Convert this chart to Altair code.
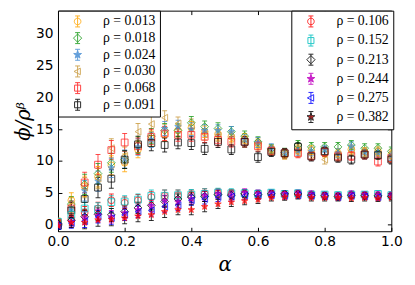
import altair as alt
import pandas as pd

# ---------------- data ----------------
alpha = [0.00, 0.04, 0.08, 0.12, 0.16, 0.20, 0.24, 0.28, 0.32, 0.36, 0.40, 0.44, 0.48,
         0.52, 0.56, 0.60, 0.64, 0.68, 0.72, 0.76, 0.80, 0.84, 0.88, 0.92, 0.96, 1.00]

rho_upper = ["0.013", "0.018", "0.024", "0.030", "0.068", "0.091"]
rho_lower = ["0.106", "0.152", "0.213", "0.244", "0.275", "0.382"]

phi_0013 = [0.3, 3.8, 6.0, 7.5, 9.3, 9.7, 11.8, 13.5, 14.2, 14.8, 15.2, 14.6, 14.2,
            13.8, 13.5, 12.8, 11.8, 11.0, 11.8, 11.7, 11.3, 11.2, 11.8, 11.4, 11.5, 11.0]
phi_0018 = [0.2, 3.2, 6.3, 8.0, 9.7, 10.2, 12.5, 13.9, 14.8, 14.8, 16.0, 15.4, 15.1,
            14.6, 13.9, 13.0, 11.9, 11.3, 12.5, 12.2, 12.2, 12.2, 12.5, 12.0, 12.0, 11.5]
phi_0024 = [0.1, 2.5, 5.3, 6.8, 8.9, 10.3, 12.2, 13.3, 15.1, 15.4, 15.0, 14.8, 14.8,
            14.6, 13.3, 12.9, 12.0, 11.2, 11.6, 11.5, 11.7, 11.2, 12.3, 11.3, 11.3, 10.8]
phi_0030 = [0.4, 3.0, 5.8, 7.2, 12.0, 10.8, 14.6, 15.8, 16.8, 15.9, 15.6, 14.2, 14.0,
            13.6, 13.0, 12.5, 11.7, 11.0, 11.3, 11.0, 10.2, 10.8, 11.6, 11.2, 11.0, 10.6]
phi_0068 = [0.2, 2.5, 6.6, 9.4, 11.7, 12.9, 12.3, 13.8, 14.3, 14.1, 14.1, 13.8, 13.3,
            13.0, 13.0, 12.3, 11.6, 11.2, 11.2, 10.8, 11.4, 10.7, 10.8, 11.0, 9.9, 10.4]
phi_0091 = [-0.2, 2.2, 4.0, 5.8, 7.2, 10.2, 12.6, 12.8, 12.5, 12.9, 12.8, 11.9, 13.0,
            11.8, 13.0, 10.6, 11.4, 11.2, 12.2, 10.7, 11.5, 10.5, 10.2, 11.0, 10.9, 10.2]

phi_0106 = [0.3, 0.8, 1.8, 2.5, 3.8, 3.4, 3.8, 4.3, 4.5, 4.6, 4.6, 4.8, 4.9,
            4.8, 4.8, 4.7, 4.8, 4.7, 4.8, 4.6, 4.5, 4.4, 4.6, 4.6, 4.4, 4.5]
phi_0152 = [0.4, 1.5, 2.5, 2.4, 3.5, 3.6, 3.9, 4.5, 4.5, 4.6, 4.7, 4.8, 5.0,
            4.9, 4.9, 4.8, 5.0, 4.8, 4.9, 4.7, 4.7, 4.6, 4.7, 4.7, 4.8, 4.6]
phi_0213 = [0.1, 0.6, 1.2, 1.6, 1.5, 2.0, 2.6, 3.0, 3.6, 4.0, 4.3, 4.4, 4.7,
            4.6, 4.8, 4.7, 4.8, 4.8, 4.8, 4.6, 4.5, 4.4, 4.6, 4.5, 4.5, 4.4]
phi_0244 = [0.0, 0.4, 1.0, 1.4, 1.2, 1.8, 2.3, 2.9, 3.7, 3.5, 4.0, 4.5, 4.8,
            4.6, 5.0, 4.8, 4.9, 4.8, 4.9, 4.8, 4.6, 4.5, 4.8, 4.7, 4.7, 4.6]
phi_0275 = [-0.3, 0.2, 0.5, 1.2, 1.0, 1.5, 2.0, 2.2, 2.8, 3.0, 3.8, 4.0, 4.3,
            4.4, 4.5, 4.5, 4.6, 4.5, 4.6, 4.5, 4.4, 4.3, 4.5, 4.4, 4.3, 4.4]
phi_0382 = [-0.2, 0.3, 0.3, 0.7, 0.8, 1.0, 1.3, 1.5, 2.0, 2.3, 2.3, 2.8, 3.2,
            3.5, 3.7, 3.9, 4.2, 4.3, 4.5, 4.2, 4.2, 4.2, 4.1, 4.2, 4.1, 4.2]

err_upper = [0.6, 1.2, 1.6, 1.6, 1.5, 1.4, 1.3, 1.2, 1.1, 1.0, 1.0, 0.9, 0.9,
             0.8, 0.8, 0.8, 0.7, 0.7, 0.7, 0.7, 0.7, 0.7, 0.7, 0.7, 0.7, 0.7]
err_lower = [0.5, 0.8, 1.0, 1.0, 1.0, 0.9, 0.9, 0.9, 0.9, 0.8, 0.8, 0.8, 0.7,
             0.7, 0.6, 0.6, 0.5, 0.5, 0.5, 0.5, 0.5, 0.5, 0.5, 0.5, 0.5, 0.5]

x_ticks = [0.0, 0.2, 0.4, 0.6, 0.8, 1.0]
y_ticks = [0, 5, 10, 15, 20, 25, 30]

# ---------------- styles ----------------
STAR = ("M0,-1L0.235,-0.324L0.951,-0.309L0.38,0.124L0.588,0.809L0,0.4"
        "L-0.588,0.809L-0.38,0.124L-0.951,-0.309L-0.235,-0.324Z")
DIAM = "M0,-1.15L1.15,0L0,1.15L-1.15,0Z"
IBAR = "M0,-1L0,1M-0.45,-1L0.45,-1M-0.45,1L0.45,1"
LEG_MARK = {
    "circle": "M0.6,0A0.6,0.6,0,1,1,-0.6,0A0.6,0.6,0,1,1,0.6,0Z",
    "square": "M-0.55,-0.55L0.55,-0.55L0.55,0.55L-0.55,0.55Z",
    "diamond": "M0,-0.75L0.75,0L0,0.75L-0.75,0Z",
    "tri": "M-0.65,0L0.5,-0.6L0.5,0.6Z",
    "star": ("M0,-0.75L0.176,-0.243L0.713,-0.232L0.285,0.093L0.441,0.607L0,0.3"
             "L-0.441,0.607L-0.285,0.093L-0.713,-0.232L-0.176,-0.243Z"),
}
MAIN_MARK = {"circle": "circle", "square": "square", "diamond": DIAM,
             "tri": "triangle-left", "star": STAR}

# rho: (color, filled, marker, errorbar colour, legend stroke)
style = {
    "0.013": ("#ffa500", False, "circle", "#ffa500", "#ffa500"),
    "0.018": ("#1f9e1f", False, "diamond", "#1f9e1f", "#1f9e1f"),
    "0.024": ("#4a8fd4", True, "star", "#4a8fd4", "#4a8fd4"),
    "0.030": ("#c99a3c", False, "tri", "#c99a3c", "#c99a3c"),
    "0.068": ("#ff2020", False, "square", "#ff2020", "#ff2020"),
    "0.091": ("#000000", False, "square", "#000000", "#000000"),
    "0.106": ("#ff0000", False, "circle", "#ff0000", "#ff0000"),
    "0.152": ("#00bfbf", False, "square", "#00bfbf", "#00bfbf"),
    "0.213": ("#000000", False, "diamond", "#000000", "#000000"),
    "0.244": ("#bf00bf", True, "star", "#bf00bf", "#bf00bf"),
    "0.275": ("#0000ff", False, "tri", "#0000ff", "#0000ff"),
    "0.382": ("#ff0000", True, "star", "#000000", "#000000"),
}
series = {
    "0.013": (phi_0013, err_upper), "0.018": (phi_0018, err_upper),
    "0.024": (phi_0024, err_upper), "0.030": (phi_0030, err_upper),
    "0.068": (phi_0068, err_upper), "0.091": (phi_0091, err_upper),
    "0.106": (phi_0106, err_lower), "0.152": (phi_0152, err_lower),
    "0.213": (phi_0213, err_lower), "0.244": (phi_0244, err_lower),
    "0.275": (phi_0275, err_lower), "0.382": (phi_0382, err_lower),
}

def lab(r):
    return "ρ = " + r

rows = []
for r in rho_upper + rho_lower:
    vals, errs = series[r]
    col, filled, mk, ecol, _ = style[r]
    for a, v, e in zip(alpha, vals, errs):
        rows.append({"alpha": a, "phi": v, "lo": v - e, "hi": v + e,
                     "label": lab(r), "color": col,
                     "fill": col if filled else "transparent",
                     "shape": MAIN_MARK[mk], "ecolor": ecol})
df = pd.DataFrame(rows)

XS = alt.Scale(domain=[0, 1], nice=False, zero=False)
YS = alt.Scale(domain=[-1.08, 33.66], nice=False, zero=False)

base = alt.Chart(df)

# axes (bottom/left with labels, top/right ticks only) – ticks pointing inwards
ax_bl = base.transform_filter("false").mark_point(opacity=0).encode(
    x=alt.X("alpha:Q", scale=XS, axis=alt.Axis(
        orient="bottom", values=x_ticks, format=".1f", offset=-4, domain=False,
        grid=False, tickSize=4, tickColor="black", labelFlush=False,
        labelFont="DejaVu Sans", labelFontSize=14, labelColor="black", labelPadding=4,
        title="α", titleFont="DejaVu Serif", titleFontStyle="italic",
        titleFontWeight="normal", titleFontSize=20, titleColor="black", titlePadding=6)),
    y=alt.Y("phi:Q", scale=YS, axis=alt.Axis(
        orient="left", values=y_ticks, offset=-4, domain=False, grid=False,
        tickSize=4, tickColor="black", labelFont="DejaVu Sans", labelFontSize=14,
        labelColor="black", labelPadding=5, title="ϕ/ρᵝ", titleFont="DejaVu Serif",
        titleFontStyle="italic", titleFontWeight="normal", titleFontSize=20,
        titleColor="black", titlePadding=2)),
)
ax_tr = base.transform_filter("false").mark_point(opacity=0).encode(
    x=alt.X("alpha:Q", scale=XS, axis=alt.Axis(
        orient="top", values=x_ticks, offset=-4, domain=False, grid=False,
        tickSize=4, tickColor="black", labels=False, title="")),
    y=alt.Y("phi:Q", scale=YS, axis=alt.Axis(
        orient="right", values=y_ticks, offset=-4, domain=False, grid=False,
        tickSize=4, tickColor="black", labels=False, title="")),
)

X = alt.X("alpha:Q", scale=XS, axis=None)

bars = base.mark_rule(strokeWidth=1, opacity=0.8, clip=True).encode(
    x=X, y=alt.Y("lo:Q", scale=YS, axis=None), y2="hi:Q",
    color=alt.Color("ecolor:N", scale=None))
cap_lo = base.mark_tick(orient="horizontal", size=5, thickness=1, opacity=0.8, clip=True).encode(
    x=X, y=alt.Y("lo:Q", scale=YS, axis=None), color=alt.Color("ecolor:N", scale=None))
cap_hi = base.mark_tick(orient="horizontal", size=5, thickness=1, opacity=0.8, clip=True).encode(
    x=X, y=alt.Y("hi:Q", scale=YS, axis=None), color=alt.Color("ecolor:N", scale=None))
pts = base.mark_point(size=48, strokeWidth=1, opacity=0.75, clip=True).encode(
    x=X, y=alt.Y("phi:Q", scale=YS, axis=None),
    stroke=alt.Stroke("color:N", scale=None),
    fill=alt.Fill("fill:N", scale=None),
    shape=alt.Shape("shape:N", scale=None))


def legend_layer(rhos, row_pad, lx):
    labels = [lab(r) for r in rhos]
    fills = [style[r][0] if style[r][1] else "transparent" for r in rhos]
    strokes = [style[r][4] for r in rhos]
    shapes = [IBAR + LEG_MARK[style[r][2]] for r in rhos]
    leg = alt.Legend(title=None, orient="none", legendX=lx, legendY=0, padding=4,
                     strokeColor="black", fillColor="white", symbolSize=125,
                     symbolStrokeWidth=1, symbolOffset=9, labelOffset=19,
                     labelFont="Liberation Serif", labelFontSize=14,
                     labelColor="black", rowPadding=row_pad, symbolOpacity=0.85)
    return base.transform_filter("false").mark_point().encode(
        fill=alt.Fill("label:N", scale=alt.Scale(domain=labels, range=fills), legend=leg),
        stroke=alt.Stroke("label:N", scale=alt.Scale(domain=labels, range=strokes), legend=leg),
        shape=alt.Shape("label:N", scale=alt.Scale(domain=labels, range=shapes), legend=leg),
    )


leg_up = legend_layer(rho_upper, 1.0, 0)
leg_lo = legend_layer(rho_lower, 3.5, 238)

chart = alt.layer(ax_bl, ax_tr, bars, cap_lo, cap_hi, pts, leg_up, leg_lo).resolve_scale(
    fill="independent", stroke="independent", shape="independent"
).resolve_axis(x="independent", y="independent").properties(
    width=340, height=225,
    autosize=alt.AutoSizeParams(type="none"),
    padding={"left": 51, "top": 0, "right": 16, "bottom": 46},
).configure_view(stroke="black", strokeWidth=1)

chart.save("out.html", embed_options={"renderer": "svg", "actions": False})
